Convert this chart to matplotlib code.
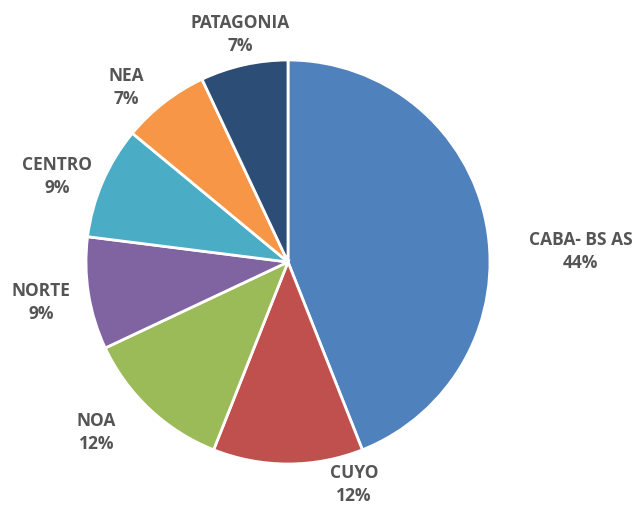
import matplotlib.pyplot as plt
import numpy as np

# Datos del grafico de torta
regiones = ['CABA- BS AS', 'CUYO', 'NOA', 'NORTE', 'CENTRO', 'NEA', 'PATAGONIA']
porcentajes = [44, 12, 12, 9, 9, 7, 7]
colores = ['#4F81BD', '#C0504D', '#9BBB59', '#8064A2', '#4BACC6', '#F79646', '#2C4D75']

# ajuste de posicion de etiquetas (factor radial, giro en grados)
ajuste_r = [1.45, 1.15, 1.27, 1.24, 1.22, 1.18, 1.15]
ajuste_ang = [-8.8, 16.5, -5.1, 0.4, 3.0, 5.0, -0.7]

fig = plt.figure(figsize=(6.42, 5.07), dpi=100)
ax = fig.add_axes([0, 0, 1, 1])

cx, cy, r = 288, 245, 202
wedges, _ = ax.pie(porcentajes, colors=colores, startangle=90, counterclock=False,
                   center=(cx, cy), radius=r, frame=True,
                   wedgeprops=dict(edgecolor='white', linewidth=2))

for w, nombre, p, fr, da in zip(wedges, regiones, porcentajes, ajuste_r, ajuste_ang):
    ang = np.deg2rad((w.theta1 + w.theta2) / 2 + da)
    x = cx + fr * r * np.cos(ang)
    y = cy + fr * r * np.sin(ang)
    ax.text(x, y, f'{nombre}\n{p}%', ha='center', va='center', fontsize=12.5,
            fontweight='bold', color='#555555', family='Open Sans', linespacing=1.35)

ax.set_xlim(0, 642)
ax.set_ylim(0, 507)
ax.set_aspect('equal')
ax.axis('off')

fig.savefig('out.png', dpi=100)
